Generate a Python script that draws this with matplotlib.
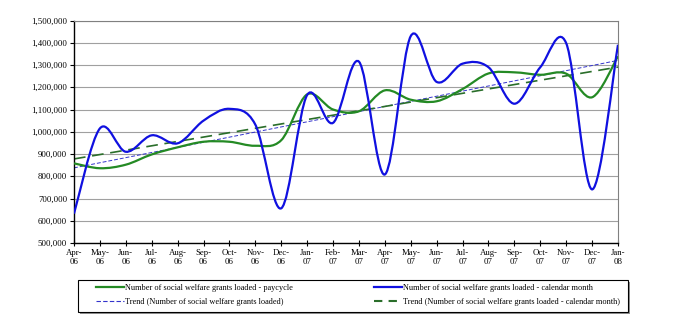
import numpy as np
import matplotlib
matplotlib.use("Agg")
import matplotlib.pyplot as plt
from matplotlib.path import Path
from matplotlib.patches import PathPatch, Rectangle
from matplotlib.lines import Line2D
from matplotlib.ticker import FuncFormatter

plt.rcParams['font.family'] = ['Liberation Serif', 'DejaVu Serif']

# Month labels (Apr-06 .. Jan-08)
months = ["Apr-\n06", "May-\n06", "Jun-\n06", "Jul-\n06", "Aug-\n06", "Sep-\n06",
          "Oct-\n06", "Nov-\n06", "Dec-\n06", "Jan-\n07", "Feb-\n07", "Mar-\n07",
          "Apr-\n07", "May-\n07", "Jun-\n07", "Jul-\n07", "Aug-\n07", "Sep-\n07",
          "Oct-\n07", "Nov-\n07", "Dec-\n07", "Jan-\n08"]

# Number of social welfare grants loaded - paycycle
paycycle = [858000, 836000, 852000, 898000, 930000, 955000, 955000, 937000,
            962000, 1168000, 1100000, 1092000, 1186000, 1144000, 1137000,
            1192000, 1262000, 1267000, 1256000, 1261000, 1155000, 1339000]

# Number of social welfare grants loaded - calendar month
calendar = [632000, 1015000, 910000, 984000, 948000, 1050000, 1103000, 1032000,
            656000, 1165000, 1040000, 1315000, 808000, 1430000, 1224000,
            1306000, 1290000, 1126000, 1290000, 1398000, 741000, 1391000]


def smooth_path(x, y):
    # Excel-style smoothed line: Bezier segments through each point
    pts = np.column_stack([x, y]).astype(float)
    n = len(pts)
    verts = [pts[0]]
    codes = [Path.MOVETO]
    for i in range(n - 1):
        p0 = pts[i - 1] if i > 0 else pts[i]
        p1 = pts[i]
        p2 = pts[i + 1]
        p3 = pts[i + 2] if i + 2 < n else pts[i + 1]
        c1 = p1 + (p2 - p0) / 6.0
        c2 = p2 - (p3 - p1) / 6.0
        verts += [c1, c2, p2]
        codes += [Path.CURVE4] * 3
    return Path(verts, codes)


x = np.arange(len(months))

fig = plt.figure(figsize=(6.94, 3.24), dpi=100)
ax = fig.add_axes([74 / 694, 1 - 243 / 324, (618 - 74) / 694, (243 - 20.5) / 324])

# trend lines (linear fits)
tp = np.polyval(np.polyfit(x, paycycle, 1), x)
tc = np.polyval(np.polyfit(x, calendar, 1), x)
ax.plot(x, tp, color="#3333cc", linestyle=(0, (4, 2)), linewidth=0.7, zorder=2)
ax.plot(x, tc, color="#2a6e2a", linestyle=(0, (7, 4)), linewidth=1.2, zorder=2)

ax.add_patch(PathPatch(smooth_path(x, paycycle), facecolor="none",
                       edgecolor="#248a24", linewidth=1.6, zorder=3))
ax.add_patch(PathPatch(smooth_path(x, calendar), facecolor="none",
                       edgecolor="#1010e0", linewidth=1.6, zorder=4))

ax.set_xlim(0, len(months) - 1)
ax.set_ylim(500000, 1500000)
ax.set_yticks(np.arange(500000, 1500001, 100000))
ax.yaxis.set_major_formatter(FuncFormatter(lambda v, p: f"{int(v):,}"))
ax.set_xticks(x)
ax.set_xticklabels(months)
ax.tick_params(axis="both", labelsize=6.3, length=3, width=0.8, direction="out", pad=2)
ax.tick_params(axis="x", direction="inout", length=4)
ax.grid(axis="y", color="#a0a0a0", linewidth=0.8)
ax.set_axisbelow(True)

ax.spines["left"].set_color("black")
ax.spines["bottom"].set_color("black")
ax.spines["left"].set_linewidth(1.0)
ax.spines["bottom"].set_linewidth(1.0)
ax.spines["top"].set_color("#808080")
ax.spines["right"].set_color("#808080")

# legend box with a small shadow
fig.patches.append(Rectangle((80 / 694, 1 - 314 / 324), 550 / 694, 32 / 324,
                             transform=fig.transFigure, facecolor="#909090",
                             edgecolor="none", zorder=0))
fig.patches.append(Rectangle((78 / 694, 1 - 312 / 324), 550 / 694, 32 / 324,
                             transform=fig.transFigure, facecolor="white",
                             edgecolor="black", linewidth=0.8, zorder=1))

handles = [
    Line2D([], [], color="#248a24", linewidth=1.6),
    Line2D([], [], color="#3333cc", linewidth=0.8, linestyle=(0, (4, 2))),
    Line2D([], [], color="#1010e0", linewidth=1.6),
    Line2D([], [], color="#2a6e2a", linewidth=1.5, linestyle=(0, (4, 3))),
]
labels = [
    "Number of social welfare grants loaded - paycycle",
    "Trend (Number of social welfare grants loaded)",
    "Number of social welfare grants loaded - calendar month",
    "Trend (Number of social welfare grants loaded - calendar month)",
]
leg = fig.legend(handles, labels, ncol=2, loc="upper left",
                 bbox_to_anchor=(96 / 694, 1 - 283.5 / 324),
                 fontsize=5.95, frameon=False, handlelength=3.4, handletextpad=0.1,
                 borderpad=0, borderaxespad=0, labelspacing=0.75, columnspacing=9.8)
leg.set_zorder(2)

fig.savefig("out.png", dpi=100)
